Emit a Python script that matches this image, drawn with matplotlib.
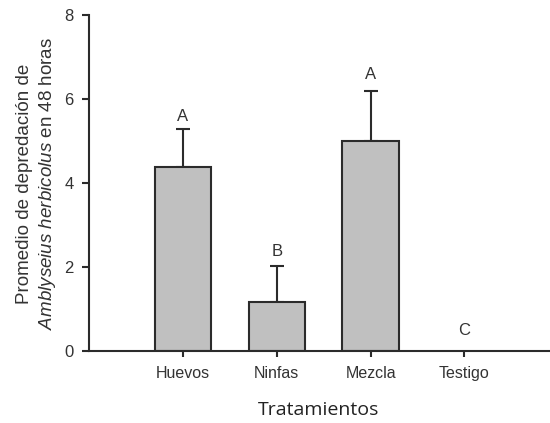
import matplotlib
matplotlib.use("Agg")
import matplotlib.pyplot as plt
import numpy as np

plt.rcParams['font.family'] = ['Liberation Sans', 'DejaVu Sans']
plt.rcParams['mathtext.fontset'] = 'custom'
plt.rcParams['mathtext.it'] = 'Liberation Sans:italic'
plt.rcParams['mathtext.rm'] = 'Liberation Sans'

# data
tratamientos = ["Huevos", "Ninfas", "Mezcla", "Testigo"]
promedio = [4.38, 1.17, 5.0, 0.0]
error = [0.91, 0.86, 1.19, 0.0]
letras = ["A", "B", "A", "C"]
letra_y = [5.57, 2.38, 6.57, 0.48]

dark = "#2b2b2b"
txt = "#333333"
x = np.arange(1, len(tratamientos) + 1)

fig = plt.figure(figsize=(5.5, 4.23), dpi=100)
ax = fig.add_axes([0.162, 0.170, 0.836, 0.795])

ax.bar(x[:3], promedio[:3], width=0.6, color="#c0c0c0", edgecolor=dark, linewidth=1.5, zorder=2)
# only upper error bars
ax.errorbar(x[:3], promedio[:3], yerr=[np.zeros(3), error[:3]], fmt="none",
            ecolor=dark, elinewidth=1.5, capsize=5, capthick=1.5, zorder=1)

for xi, lab, ly in zip(x, letras, letra_y):
    ax.text(xi, ly, lab, ha="center", va="center", fontsize=12, color=txt)

ax.set_xlim(0, 4.9)
ax.set_ylim(0, 8)
ax.set_yticks([0, 2, 4, 6, 8])
ax.set_xticks(x)
ax.set_xticklabels(tratamientos, fontsize=11.5, color=txt)
ax.tick_params(axis="y", labelsize=12, labelcolor=txt, length=5, width=1.5, color=dark, pad=6)
ax.tick_params(axis="x", length=4, width=1.5, color=dark, pad=7)

for s in ["top", "right"]:
    ax.spines[s].set_visible(False)
for s in ["left", "bottom"]:
    ax.spines[s].set_linewidth(1.5)
    ax.spines[s].set_color(dark)

ax.set_xlabel("Tratamientos", fontsize=14, family=["Open Sans", "DejaVu Sans"],
              color="#222222", labelpad=14)

fig.text(0.045, 0.565, "Promedio de depredación de", rotation=90,
         ha="center", va="center", fontsize=13.5, color=txt)
fig.text(0.086, 0.565, r"$\it{Amblyseius\ herbicolus}$ en 48 horas", rotation=90,
         ha="center", va="center", fontsize=13.5, color=txt)

fig.savefig("out.png", dpi=100)
